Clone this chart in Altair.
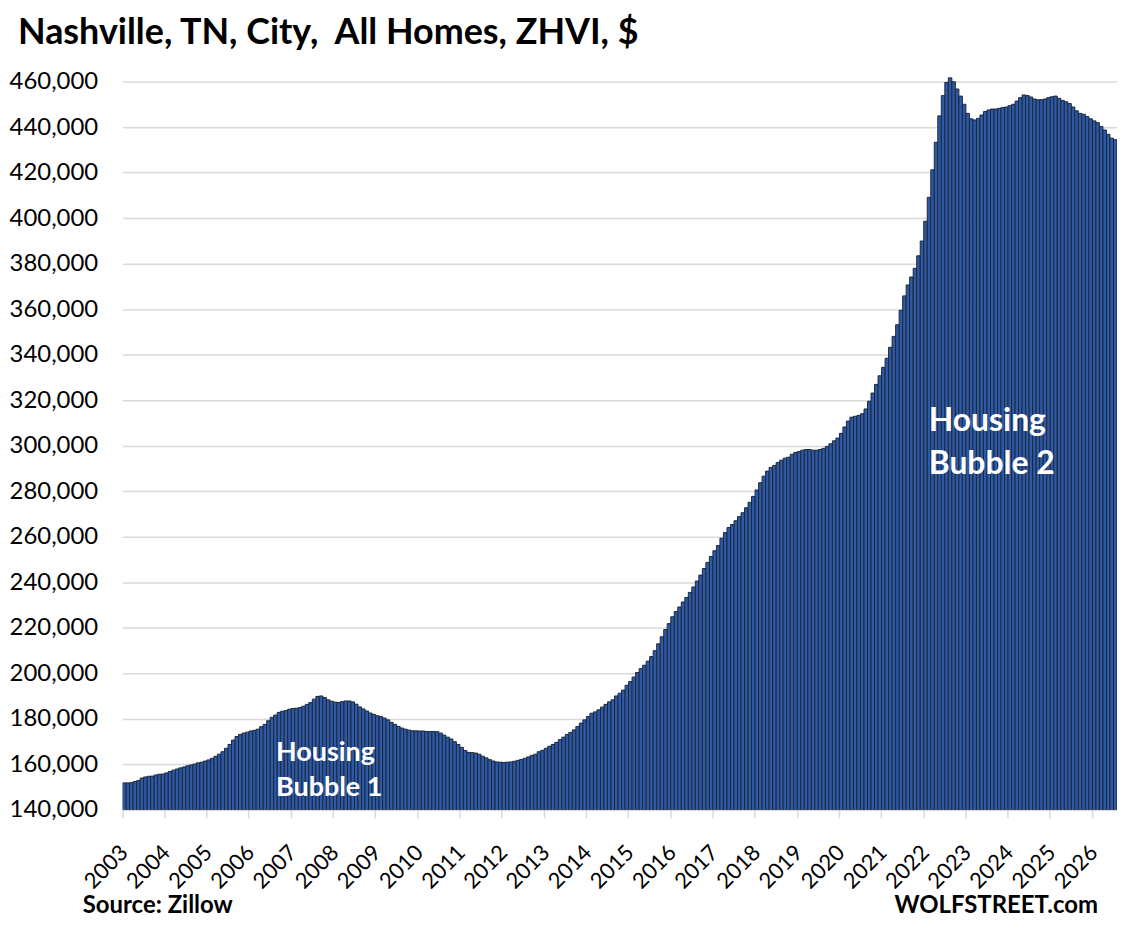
import altair as alt
import pandas as pd

START_YEAR = 2003

# Monthly ZHVI values ($), Jan 2003 onward
zhvi_2003_2005 = [
    151800, 151800, 151900, 152400, 152800, 153900, 154400, 154700, 154800, 155300, 155600, 155700,
    156200, 156800, 157400, 157900, 158400, 158800, 159300, 159700, 160100, 160600, 160900, 161400,
    161900, 162600, 163500, 164400, 165500, 167000, 168700, 170600, 172200, 173100, 173700, 174100,
]
zhvi_2006_2008 = [
    174600, 174900, 175400, 176500, 177500, 179100, 180600, 181600, 182800, 183300, 183600, 184200,
    184500, 184600, 184900, 185500, 186300, 187100, 188600, 189800, 190000, 189300, 188300, 187700,
    187300, 187100, 187500, 187800, 187800, 187400, 186400, 185200, 184300, 183400, 182500, 181900,
]
zhvi_2009_2011 = [
    181300, 181000, 180300, 179500, 178400, 177500, 176600, 175900, 175400, 175000, 174700, 174700,
    174600, 174600, 174400, 174400, 174400, 174300, 173700, 172800, 171900, 171100, 169900, 168700,
    167400, 166000, 165200, 165100, 164900, 164400, 163500, 162800, 162000, 161400, 161000, 160900,
]
zhvi_2012_2014 = [
    160800, 160900, 161000, 161300, 161700, 162100, 162600, 163200, 163900, 164400, 165500, 166100,
    167000, 167900, 168700, 169600, 170800, 171900, 173100, 174000, 175100, 176600, 178100, 179500,
    181000, 182400, 183000, 183900, 185100, 186300, 187400, 188300, 190000, 191200, 192600, 194700,
]
zhvi_2015_2017 = [
    196300, 198300, 200300, 202000, 203500, 205300, 207300, 209900, 212900, 216000, 219200, 221800,
    224800, 227100, 229100, 231300, 233300, 235500, 237900, 240500, 243100, 246000, 248700, 251300,
    253800, 256100, 259300, 261800, 264000, 265300, 267000, 268800, 270500, 272700, 275100, 277700,
]
zhvi_2018_2020 = [
    280500, 283700, 286600, 288800, 290400, 291300, 292600, 293600, 294500, 294900, 296200, 297000,
    297400, 298000, 298300, 298300, 298000, 298000, 298300, 298800, 299600, 300800, 302100, 303300,
    305400, 308200, 310800, 312500, 312900, 313300, 314000, 316100, 319500, 323100, 326900, 330700,
]
zhvi_2021_2023 = [
    334400, 338400, 343200, 348000, 353100, 359500, 365800, 370600, 374100, 377900, 383400, 389900,
    398600, 409100, 421200, 433300, 444900, 453800, 459600, 461600, 459900, 456700, 453600, 450000,
    446000, 443600, 443100, 443800, 445300, 446800, 447500, 447900, 447900, 448200, 448600, 448800,
]
zhvi_2024_2026 = [
    449400, 450000, 451400, 452900, 454100, 453800, 453200, 452300, 452000, 452000, 452300, 452900,
    453300, 453600, 452600, 451700, 451100, 450300, 448800, 447100, 446000, 445600, 444600, 443600,
    442700, 441900, 440200, 438700, 436800, 435100, 434400,
]

values = (zhvi_2003_2005 + zhvi_2006_2008 + zhvi_2009_2011 + zhvi_2012_2014
          + zhvi_2015_2017 + zhvi_2018_2020 + zhvi_2021_2023 + zhvi_2024_2026)

y_ticks = list(range(140000, 460001, 20000))
jan_index = list(range(0, len(values), 12))

df = pd.DataFrame({"m": list(range(len(values))), "zhvi": values})

FONT = "Lato"
GRID = "#D9D9D9"

bars = alt.Chart(df).mark_bar(
    fill="#2C5AA8", stroke="#1E2738", strokeWidth=1.0, clip=True
).encode(
    x=alt.X(
        "m:O",
        title=None,
        scale=alt.Scale(paddingInner=0, paddingOuter=0),
        axis=alt.Axis(
            values=jan_index,
            labelExpr=f"toString({START_YEAR} + datum.value / 12)",
            bandPosition=0,
            labelAngle=-45,
            labelAlign="right",
            labelBaseline="middle",
            labelFont=FONT,
            labelFontSize=22,
            labelColor="#000000",
            labelPadding=31,
            tickSize=8,
            tickColor=GRID,
            tickWidth=1.5,
            domainColor=GRID,
            domainWidth=1.5,
            grid=False,
        ),
    ),
    y=alt.Y(
        "zhvi:Q",
        title=None,
        scale=alt.Scale(domain=[140000, 464000], nice=False, zero=False),
        axis=alt.Axis(
            values=y_ticks,
            format=",d",
            labelFont=FONT,
            labelFontSize=24,
            labelColor="#000000",
            labelPadding=25,
            ticks=False,
            domain=False,
            grid=True,
            gridColor=GRID,
            gridWidth=1.5,
        ),
    ),
    y2=alt.datum(140000),
)


def label(text, x, y, size, color="#000000", align="left"):
    return alt.Chart(pd.DataFrame({"t": [text]})).mark_text(
        font=FONT, fontSize=size, fontWeight="bold", color=color,
        align=align, baseline="alphabetic",
    ).encode(text="t:N", x=alt.value(x), y=alt.value(y))


title_txt = label("Nashville, TN, City,\u00a0 All Homes, ZHVI, $", -105, -29, 36)
source_txt = label("Source: Zillow", -40, 844, 24)
wolf_txt = label("WOLFSTREET.com", 979, 844, 24, align="right")
b1a = label("Housing", 154, 691, 27, color="#FFFFFF")
b1b = label("Bubble 1", 154, 726, 27, color="#FFFFFF")
b2a = label("Housing", 809, 360, 32, color="#FFFFFF")
b2b = label("Bubble 2", 809, 403, 32, color="#FFFFFF")

chart = alt.layer(bars, title_txt, source_txt, wolf_txt, b1a, b1b, b2a, b2b).properties(
    width=998,
    height=740,
    autosize=alt.AutoSizeParams(type="none"),
    padding={"left": 115, "top": 63, "right": 0, "bottom": 109},
    background="#FFFFFF",
).configure_view(stroke=None)

chart.save("out.html", embed_options={"renderer": "svg", "actions": False})
